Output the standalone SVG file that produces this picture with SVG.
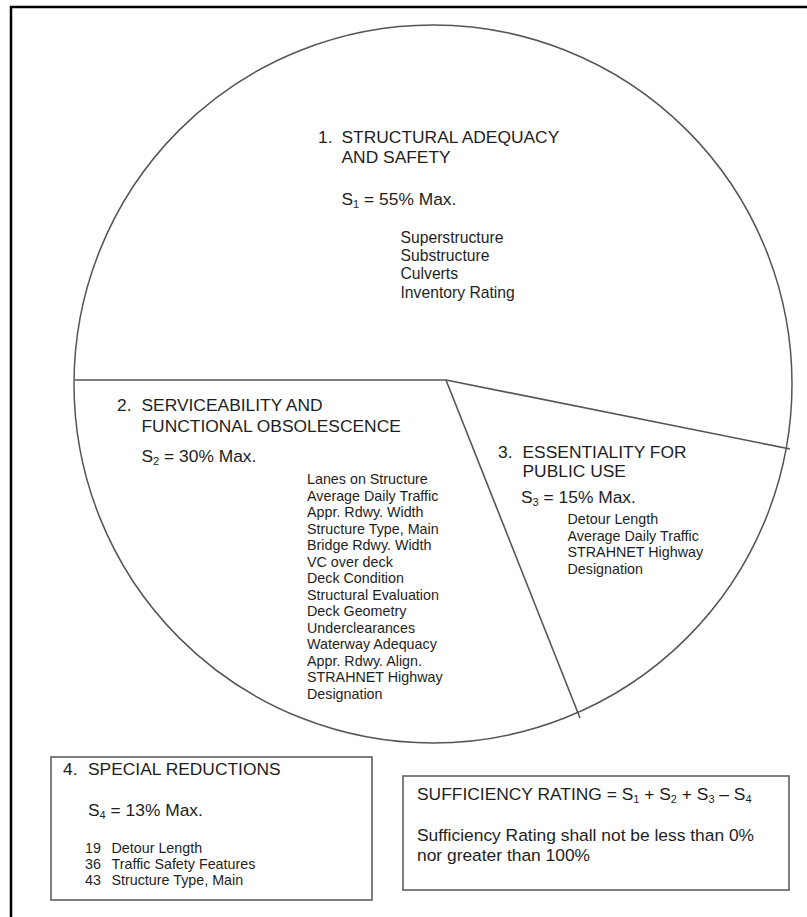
<svg xmlns="http://www.w3.org/2000/svg" width="807" height="917" viewBox="0 0 807 917">
<style>
  text { font-family: "Liberation Sans", Arial, sans-serif; fill: #1e1e1e; }
  .h { font-size: 17.4px; }
  .l { font-size: 14.3px; }
  .l1 { font-size: 15.7px; }
  .sub { font-size: 11px; }
  .pie { fill: #ffffff; stroke: #555555; stroke-width: 1.5; }
  .div { stroke: #555555; stroke-width: 1.6; fill: none; }
  .box { fill: #ffffff; stroke: #555555; stroke-width: 1.5; }
</style>
<rect x="0" y="0" width="807" height="917" fill="#ffffff"/>
<rect id="frame" x="11" y="7" width="840" height="940" fill="none" stroke="#000000" stroke-width="2.5"/>

<g id="pie">
  <circle class="pie" cx="433" cy="384" r="359"/>
</g>
<g id="connectors">
  <line class="div" x1="75" y1="380" x2="446" y2="380"/>
  <line class="div" x1="446" y1="380" x2="790" y2="449"/>
  <line class="div" x1="446" y1="380" x2="580" y2="718"/>
</g>

<g id="zone1">
  <text class="h" x="318" y="143">1.</text>
  <text class="h" x="341.5" y="143">STRUCTURAL ADEQUACY</text>
  <text class="h" x="341.5" y="163">AND SAFETY</text>
  <text class="h" x="341.5" y="205">S<tspan class="sub" dy="3">1</tspan><tspan dy="-3"> = 55% Max.</tspan></text>
  <text class="l1" x="400.5" y="243">Superstructure</text>
  <text class="l1" x="400.5" y="261">Substructure</text>
  <text class="l1" x="400.5" y="279">Culverts</text>
  <text class="l1" x="400.5" y="298">Inventory Rating</text>
</g>

<g id="zone2">
  <text class="h" x="117" y="411">2.</text>
  <text class="h" x="141.5" y="411">SERVICEABILITY AND</text>
  <text class="h" x="141.5" y="432">FUNCTIONAL OBSOLESCENCE</text>
  <text class="h" x="141.5" y="462">S<tspan class="sub" dy="3">2</tspan><tspan dy="-3"> = 30% Max.</tspan></text>
  <text class="l">
    <tspan x="307" y="484">Lanes on Structure</tspan>
    <tspan x="307" y="500.5">Average Daily Traffic</tspan>
    <tspan x="307" y="517">Appr. Rdwy. Width</tspan>
    <tspan x="307" y="533.5">Structure Type, Main</tspan>
    <tspan x="307" y="550">Bridge Rdwy. Width</tspan>
    <tspan x="307" y="566.5">VC over deck</tspan>
    <tspan x="307" y="583">Deck Condition</tspan>
    <tspan x="307" y="599.5">Structural Evaluation</tspan>
    <tspan x="307" y="616">Deck Geometry</tspan>
    <tspan x="307" y="632.5">Underclearances</tspan>
    <tspan x="307" y="649">Waterway Adequacy</tspan>
    <tspan x="307" y="665.5">Appr. Rdwy. Align.</tspan>
    <tspan x="307" y="682">STRAHNET Highway</tspan>
    <tspan x="307" y="698.5">Designation</tspan>
  </text>
</g>

<g id="zone3">
  <text class="h" x="498" y="458">3.</text>
  <text class="h" x="522.5" y="477">PUBLIC USE</text>
  <text class="h" x="522.5" y="458">ESSENTIALITY FOR</text>
  <text class="h" x="521" y="503">S<tspan class="sub" dy="3">3</tspan><tspan dy="-3"> = 15% Max.</tspan></text>
  <text class="l">
    <tspan x="567.5" y="524">Detour Length</tspan>
    <tspan x="567.5" y="540.5">Average Daily Traffic</tspan>
    <tspan x="567.5" y="557">STRAHNET Highway</tspan>
    <tspan x="567.5" y="573.5">Designation</tspan>
  </text>
</g>

<g id="box4">
  <rect class="box" x="51" y="757" width="321" height="143"/>
  <text class="h" x="63" y="774.5">4.</text>
  <text class="h" x="88" y="774.5">SPECIAL REDUCTIONS</text>
  <text class="h" x="88" y="816">S<tspan class="sub" dy="3">4</tspan><tspan dy="-3"> = 13% Max.</tspan></text>
  <text class="l">
    <tspan x="85" y="852.5">19</tspan><tspan x="111.5" y="852.5">Detour Length</tspan>
    <tspan x="85" y="869">36</tspan><tspan x="111.5" y="869">Traffic Safety Features</tspan>
    <tspan x="85" y="885">43</tspan><tspan x="111.5" y="885">Structure Type, Main</tspan>
  </text>
</g>

<g id="sufficiency">
  <rect class="box" x="403" y="776" width="386" height="114"/>
  <text class="h" x="417" y="799.5">SUFFICIENCY RATING = S<tspan class="sub" dy="3">1</tspan><tspan dy="-3"> + S</tspan><tspan class="sub" dy="3">2</tspan><tspan dy="-3"> + S</tspan><tspan class="sub" dy="3">3</tspan><tspan dy="-3"> – S</tspan><tspan class="sub" dy="3">4</tspan></text>
  <text class="h" x="417" y="841">Sufficiency Rating shall not be less than 0%</text>
  <text class="h" x="417" y="861">nor greater than 100%</text>
</g>
</svg>
